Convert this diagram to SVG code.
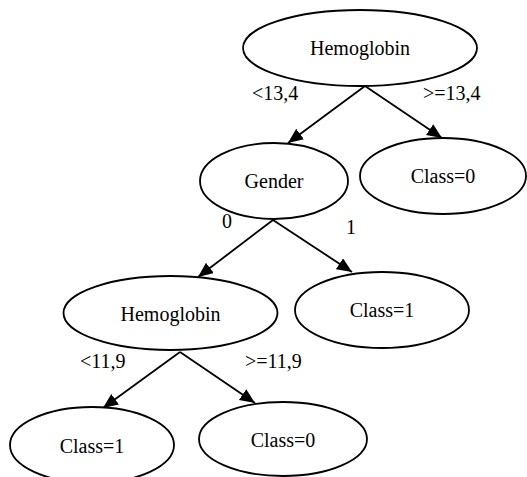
<svg xmlns="http://www.w3.org/2000/svg" width="527" height="477" viewBox="0 0 527 477">
<style>
.node ellipse{fill:#fff;stroke:#000;stroke-width:1.8}
text{font-family:'Liberation Serif','Times New Roman','DejaVu Serif',serif;font-size:20px;fill:#000}
.node text{text-anchor:middle}
.edge{stroke:#000;stroke-width:1.8;fill:none;marker-end:url(#arr)}
</style>
<defs>
<marker id="arr" markerUnits="userSpaceOnUse" markerWidth="16" markerHeight="14" refX="15" refY="6.5" orient="auto">
<path d="M0,0 L15,6.5 L0,13 Z" fill="#000"/>
</marker>
</defs>
<rect width="527" height="477" fill="#fff"/>
<g id="connectors">
<line class="edge" x1="365" y1="86" x2="288" y2="143"/>
<line class="edge" x1="365" y1="86" x2="442" y2="138"/>
<line class="edge" x1="273" y1="220" x2="198" y2="277"/>
<line class="edge" x1="273" y1="220" x2="352" y2="272"/>
<line class="edge" x1="180" y1="352" x2="103" y2="408"/>
<line class="edge" x1="180" y1="352" x2="255" y2="403"/>
<text x="252" y="100" font-family="Liberation Serif, serif">&lt;13,4</text>
<text x="423" y="100" font-family="Liberation Serif, serif">&gt;=13,4</text>
<text x="222" y="228" font-family="Liberation Serif, serif">0</text>
<text x="346" y="234" font-family="Liberation Serif, serif">1</text>
<text x="80" y="368" font-family="Liberation Serif, serif">&lt;11,9</text>
<text x="245" y="368" font-family="Liberation Serif, serif">&gt;=11,9</text>
</g>
<g id="n_root" class="node"><ellipse cx="360" cy="48" rx="117" ry="38"/><text x="360" y="55" font-family="Liberation Serif, serif">Hemoglobin</text></g>
<g id="n_gender" class="node"><ellipse cx="274" cy="181" rx="74" ry="38"/><text x="274" y="188" font-family="Liberation Serif, serif">Gender</text></g>
<g id="n_class0a" class="node"><ellipse cx="443" cy="176" rx="83" ry="38"/><text x="443" y="183" font-family="Liberation Serif, serif">Class=0</text></g>
<g id="n_hemo2" class="node"><ellipse cx="170.5" cy="313" rx="107" ry="37"/><text x="170.5" y="321" font-family="Liberation Serif, serif">Hemoglobin</text></g>
<g id="n_class1a" class="node"><ellipse cx="382" cy="310" rx="87" ry="38"/><text x="382" y="317" font-family="Liberation Serif, serif">Class=1</text></g>
<g id="n_class1b" class="node"><ellipse cx="92" cy="445" rx="82" ry="38"/><text x="92" y="453" font-family="Liberation Serif, serif">Class=1</text></g>
<g id="n_class0b" class="node"><ellipse cx="283" cy="439" rx="84" ry="37"/><text x="283" y="447" font-family="Liberation Serif, serif">Class=0</text></g>
</svg>
